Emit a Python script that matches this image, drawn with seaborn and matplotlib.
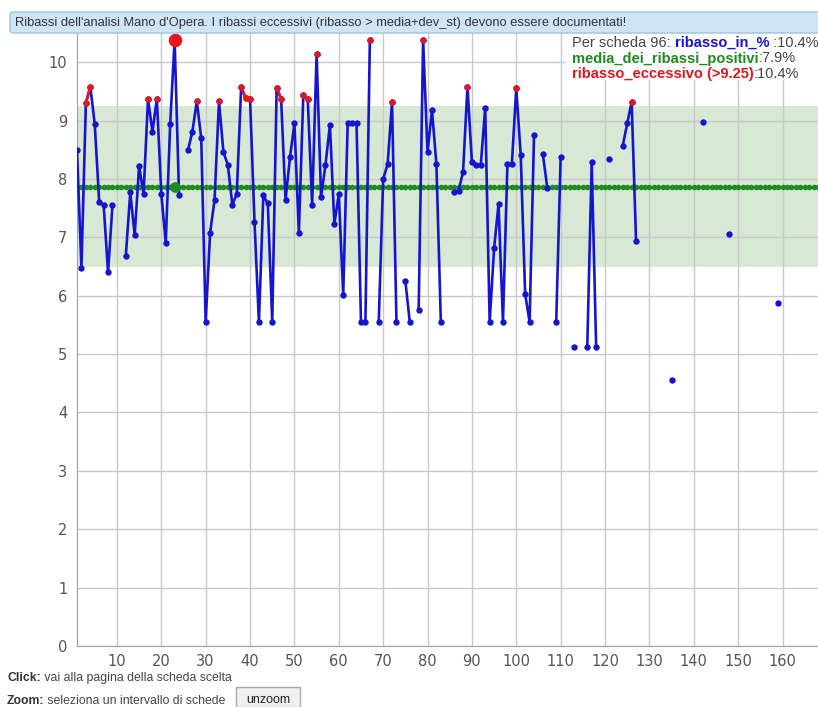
"""Ribassi dell'analisi Mano d'Opera: ribasso per scheda vs media e soglia."""
import numpy as np
import pandas as pd
import seaborn as sns
import matplotlib.pyplot as plt
from matplotlib.patches import FancyBboxPatch, Rectangle
from matplotlib.text import Annotation

nan = np.nan
# Step 1: values (scheda 1..159, nan = no value)
ribasso = [8.49, 6.48, 9.30, 9.58, 8.94, 7.61, 7.56, 6.40, 7.56, nan,
           nan, 6.68, 7.77, 7.04, 8.22, 7.74, 9.37, 8.81, 9.37, 7.74,
           6.91, 8.94, 10.38, 7.72, nan, 8.49, 8.81, 9.33, 8.70, 5.55,
           7.08, 7.64, 9.33, 8.46, 8.24, 7.56, 7.74, 9.58, 9.38, 9.37,
           7.27, 5.55, 7.72, 7.58, 5.55, 9.56, 9.37, 7.64, 8.37, 8.95,
           7.08, 9.43, 9.37, 7.56, 10.14, 7.69, 8.24, 8.93, 7.23, 7.74,
           6.01, 8.95, 8.95, 8.95, 5.55, 5.55, 10.38, nan, 5.55, 8.00,
           8.25, 9.32, 5.55, nan, 6.25, 5.55, nan, 5.75, 10.38, 8.46,
           9.18, 8.25, 5.55, nan, nan, 7.77, 7.80, 8.12, 9.58, 8.29,
           8.24, 8.24, 9.22, 5.55, 6.81, 7.57, 5.55, 8.25, 8.25, 9.55,
           8.41, 6.03, 5.55, 8.75, nan, 8.42, 7.84, nan, 5.55, 8.37,
           nan, nan, 5.12, nan, nan, 5.12, 8.29, 5.12, nan, nan,
           8.35, nan, nan, 8.57, 8.95, 9.32, 6.93, nan, nan, nan,
           nan, nan, nan, nan, 4.55, nan, nan, nan, nan, nan,
           nan, 8.97, nan, nan, nan, nan, nan, 7.05, nan, nan,
           nan, nan, nan, nan, nan, nan, nan, nan, 5.87]
schede = list(range(1, len(ribasso) + 1))
media = 7.87
soglia = 9.25
band_low = 6.49
scheda_sel = 23
ribasso_sel = 10.38
x_ticks = list(range(10, 161, 10))
y_ticks = list(range(0, 11))

df = pd.DataFrame({"scheda": schede, "ribasso": ribasso})
df["seg"] = df["ribasso"].isna().cumsum()
df["eccessivo"] = df["ribasso"].where(df["ribasso"] > soglia)
df["seg_r"] = df["eccessivo"].isna().cumsum()
mean_df = pd.DataFrame({"scheda": range(1, 169), "media": media})

# Step 2: figure and axes
fig = plt.figure(figsize=(8.18, 7.07), dpi=100)
W, H = 818, 707
ax = fig.add_axes([77 / W, (H - 646) / H, (W - 77) / W, (646 - 33) / H])
plt.rcParams["font.family"] = ["Liberation Sans", "DejaVu Sans"]

ax.axhspan(band_low, soglia, color="#d7e9d5", zorder=0, lw=0)
sns.lineplot(data=mean_df, x="scheda", y="media", color="#1f8a1f", lw=2,
             marker="o", markersize=4, markeredgewidth=0, ax=ax, zorder=2)
sns.lineplot(data=df.dropna(subset=["ribasso"]), x="scheda", y="ribasso",
             units="seg", estimator=None, color="#1515d0", lw=1.9,
             marker="o", markersize=4.6, markeredgewidth=0, ax=ax, zorder=3)
sns.lineplot(data=df.dropna(subset=["eccessivo"]), x="scheda", y="eccessivo",
             units="seg_r", estimator=None, color="#e8141e", lw=1.9,
             marker="o", markersize=4.6, markeredgewidth=0, ax=ax, zorder=4)
sns.scatterplot(x=[scheda_sel], y=[ribasso_sel], color="#e8141e", s=95,
                linewidth=0, ax=ax, zorder=5, clip_on=False)
sns.scatterplot(x=[scheda_sel], y=[media], color="#1f8a1f", s=60,
                linewidth=0, ax=ax, zorder=5)

# Step 3: axes styling
ax.set_xlim(1, 168)
ax.set_ylim(0, 10.5)
ax.set_xticks(x_ticks)
ax.set_yticks(y_ticks)
ax.grid(True, color="#c9c9c9", lw=1)
ax.set_axisbelow(True)
for s in ["top", "right"]:
    ax.spines[s].set_visible(False)
for s in ["left", "bottom"]:
    ax.spines[s].set_color("#a0a0a0")
ax.tick_params(length=0, labelsize=10.5, labelcolor="#555555")
ax.tick_params(axis="y", pad=7)
ax.tick_params(axis="x", pad=6)
ax.set_xlabel("")
ax.set_ylabel("")

# Step 4: title bar
fig.patches.append(FancyBboxPatch((10 / W, (H - 33) / H), 820 / W, 21 / H,
                                  boxstyle="round,pad=0,rounding_size=0.004",
                                  transform=fig.transFigure, facecolor="#cfe5f6",
                                  edgecolor="#9dc3df", lw=1))
fig.text(15 / W, (H - 23) / H,
         "Ribassi dell'analisi Mano d'Opera. I ribassi eccessivi (ribasso > media+dev_st) devono essere documentati!",
         fontsize=9.3, color="#333333", va="center")


def chain(first, parts, size):
    # put the remaining pieces right after the first text, same baseline
    t = first
    for txt, col, wt in parts:
        t = Annotation(txt, xy=(1, 0), xycoords=t, va="bottom", color=col,
                       weight=wt, fontsize=size, zorder=7)
        fig.add_artist(t)
    return t


# Step 5: legend text in the top right corner
fig.patches.append(Rectangle((566 / W, (H - 80) / H), 252 / W, 46 / H,
                             transform=fig.transFigure, facecolor="white",
                             edgecolor="none", zorder=6))
lines = [
    [("Per scheda 96: ", "#444444", "normal"), ("ribasso_in_%", "#1515d0", "bold"),
     (" :10.4%", "#444444", "normal")],
    [("media_dei_ribassi_positivi", "#1f8a1f", "bold"), (":7.9%", "#444444", "normal")],
    [("ribasso_eccessivo (>9.25)", "#e8141e", "bold"), (":10.4%", "#444444", "normal")],
]
for i, parts in enumerate(lines):
    y = (H - 47 - i * 15.5) / H
    t = fig.text(572 / W, y, parts[0][0], color=parts[0][1], weight=parts[0][2],
                 fontsize=10.5, zorder=7)
    chain(t, parts[1:], 10.5)

# Step 6: footer
t = fig.text(7 / W, (H - 681) / H, "Click:", weight="bold", fontsize=8.8, color="#333333")
chain(t, [(" vai alla pagina della scheda scelta", "#444444", "normal")], 8.8)
t = fig.text(7 / W, (H - 704) / H, "Zoom:", weight="bold", fontsize=8.8, color="#333333")
chain(t, [(" seleziona un intervallo di schede", "#444444", "normal")], 8.8)
fig.patches.append(Rectangle((236 / W, 0), 64 / W, 20 / H, transform=fig.transFigure,
                             facecolor="#f0f0f0", edgecolor="#aaaaaa", lw=1))
fig.text(268 / W, 4 / H, "unzoom", fontsize=9, color="#222222", ha="center")

fig.savefig("out.png", dpi=100)
